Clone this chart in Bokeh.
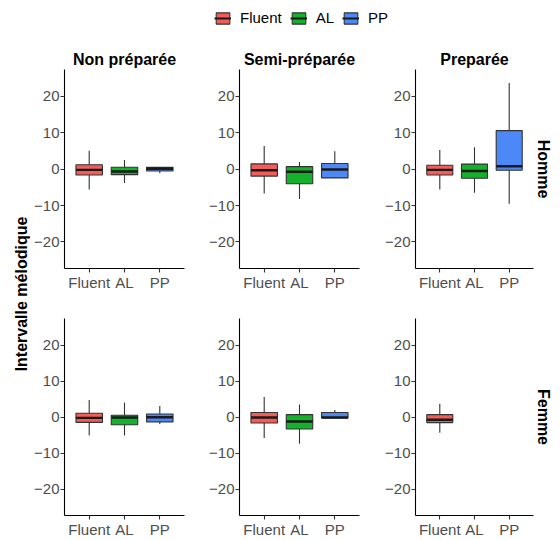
import math
from bokeh.plotting import figure
from bokeh.models import (Range1d, FactorRange, FixedTicker, ColumnDataSource,
                          Legend, LegendItem, Label, Title)
from bokeh.layouts import row, column
from bokeh.transform import dodge
from bokeh.embed import file_html
from bokeh.resources import INLINE

CATEGORIES = ["Fluent", "AL", "PP"]
COLORS = ["#F25D5A", "#13B12C", "#4D88F7"]
CONDITIONS = ["Non préparée", "Semi-préparée", "Preparée"]
GENDERS = ["Homme", "Femme"]
Y_TICKS = [-20, -10, 0, 10, 20]
Y_LABEL = "Intervalle mélodique"

# statistics per condition (outer list) and per category (inner list)
HOMME_LOW = [[-5.6, -3.8, -1.1], [-6.7, -8.2, -2.4], [-5.6, -6.5, -9.5]]
HOMME_Q1 = [[-1.6, -1.5, -0.5], [-1.9, -4.0, -2.4], [-1.6, -2.5, -0.3]]
HOMME_MED = [[-0.2, -0.65, 0.1], [-0.3, -0.7, -0.1], [-0.2, -0.5, 0.8]]
HOMME_Q3 = [[1.2, 0.55, 0.5], [1.45, 0.7, 1.55], [1.1, 1.4, 10.6]]
HOMME_HIGH = [[5.1, 2.5, 0.5], [6.4, 2.0, 4.9], [5.3, 6.0, 23.7]]

FEMME_LOW = [[-5.1, -5.1, -1.9], [-5.8, -7.4, -0.2], [-4.3, None, None]]
FEMME_Q1 = [[-1.45, -2.1, -1.3], [-1.6, -3.3, -0.2], [-1.5, None, None]]
FEMME_MED = [[-0.2, -0.1, 0.0], [-0.1, -1.2, -0.1], [-0.7, None, None]]
FEMME_Q3 = [[1.1, 0.55, 0.9], [1.3, 0.7, 1.3], [0.7, None, None]]
FEMME_HIGH = [[4.8, 4.1, 3.1], [5.6, 3.5, 2.0], [3.7, None, None]]

STATS = {
    "Homme": (HOMME_LOW, HOMME_Q1, HOMME_MED, HOMME_Q3, HOMME_HIGH),
    "Femme": (FEMME_LOW, FEMME_Q1, FEMME_MED, FEMME_Q3, FEMME_HIGH),
}

FONT = "Liberation Sans"
BOX_W = 0.75
YLAB_W = 30
WIDTHS = [173, 176, 181]
LEFTS = [34, 36, 36]
RIGHTS = [19, 20, 27]
FRAME_H = 200
TOPS = [35, 25]
BOTTOMS = [24, 22]
LEGEND_H = 34
OUTLINE = "#333333"


def make_source(gi, ci):
    low, q1, med, q3, high = (s[ci] for s in STATS[GENDERS[gi]])
    idx = [i for i in range(len(CATEGORIES)) if q1[i] is not None]
    return ColumnDataSource(dict(
        x=[CATEGORIES[i] for i in idx],
        low=[low[i] for i in idx],
        q1=[q1[i] for i in idx],
        med=[med[i] for i in idx],
        q3=[q3[i] for i in idx],
        high=[high[i] for i in idx],
        color=[COLORS[i] for i in idx],
    ))


def make_panel(gi, ci):
    src = make_source(gi, ci)
    top, bottom = TOPS[gi], BOTTOMS[gi]
    p = figure(width=WIDTHS[ci], height=top + FRAME_H + bottom,
               x_range=FactorRange(factors=CATEGORIES, range_padding=0.2,
                                   range_padding_units="absolute"),
               y_range=Range1d(-27.3, 27.4),
               output_backend="svg", toolbar_location=None,
               title=(CONDITIONS[ci] if gi == 0 else None),
               min_border_left=LEFTS[ci], min_border_right=RIGHTS[ci],
               min_border_top=top, min_border_bottom=bottom)
    p.outline_line_color = None
    p.xgrid.visible = False
    p.ygrid.visible = False
    if gi == 0:
        p.title.align = "center"
        p.title.text_font = FONT
        p.title.text_font_size = "16px"
        p.title.text_font_style = "bold"
        p.title.text_color = "black"
        p.title.standoff = 4
    p.yaxis.ticker = FixedTicker(ticks=Y_TICKS)
    for ax in (p.xaxis[0], p.yaxis[0]):
        ax.axis_line_color = "black"
        ax.axis_line_width = 1.1
        ax.major_tick_line_color = OUTLINE
        ax.major_tick_line_width = 1.1
        ax.major_tick_out = 4
        ax.major_tick_in = 0
        ax.minor_tick_line_color = None
        ax.major_label_text_font = FONT
        ax.major_label_text_font_size = "15px"
        ax.major_label_text_color = "#4D4D4D"
        ax.major_label_standoff = 1
    # whiskers
    p.segment(x0="x", x1="x", y0="q3", y1="high", source=src,
              line_color=OUTLINE, line_width=1.1)
    p.segment(x0="x", x1="x", y0="low", y1="q1", source=src,
              line_color=OUTLINE, line_width=1.1)
    # boxes
    p.vbar(x="x", width=BOX_W, top="q3", bottom="q1", source=src,
           fill_color="color", line_color=OUTLINE, line_width=1.1)
    # medians
    p.segment(x0=dodge("x", -BOX_W / 2, range=p.x_range),
              x1=dodge("x", BOX_W / 2, range=p.x_range),
              y0="med", y1="med", source=src,
              line_color="#1a1a1a", line_width=2.4)
    if ci == len(CONDITIONS) - 1:
        p.add_layout(Title(text=GENDERS[gi], align="center", text_font=FONT,
                           text_font_size="16px", text_font_style="bold",
                           text_color="black", standoff=2), "right")
    return p


rows = []
for gi in range(len(GENDERS)):
    rows.append(row(*[make_panel(gi, ci) for ci in range(len(CONDITIONS))]))

row_h = [TOPS[g] + FRAME_H + BOTTOMS[g] for g in range(2)]
body_h = sum(row_h)

# y axis label, centred on the two rows of panels
yl = figure(width=YLAB_W, height=body_h, x_range=Range1d(0, 1),
            y_range=Range1d(0, 1), x_axis_location=None, y_axis_location=None,
            min_border=0, output_backend="svg", toolbar_location=None)
yl.outline_line_color = None
yl.grid.visible = False
frames_mid = (TOPS[0] + (row_h[0] + TOPS[1] + FRAME_H)) / 2
yl.add_layout(Label(x=21, y=body_h - frames_mid, x_units="screen",
                    y_units="screen", text=Y_LABEL, angle=math.pi / 2,
                    text_align="center", text_baseline="middle",
                    text_font=FONT, text_font_size="16px",
                    text_font_style="bold", text_color="black"))

# legend (icons drawn from a panel's own box/median renderers, kept out of view)
lp = figure(width=YLAB_W + sum(WIDTHS), height=LEGEND_H,
            x_range=FactorRange(factors=CATEGORIES), y_range=Range1d(1000, 1001),
            x_axis_location=None, y_axis_location=None, min_border=0,
            output_backend="svg", toolbar_location=None)
lp.outline_line_color = None
lp.grid.visible = False
lsrc = make_source(0, 0)
rbox = lp.vbar(x="x", width=BOX_W, top="q3", bottom="q1", source=lsrc,
               fill_color="color", line_color=OUTLINE, line_width=1.1)
rmed = lp.segment(x0="x", x1="x", y0="med", y1="med", source=lsrc,
                  line_color="#1a1a1a", line_width=2)
items = [LegendItem(label=cat, renderers=[rbox, rmed], index=i)
         for i, cat in enumerate(CATEGORIES)]
legend = Legend(items=items, orientation="horizontal", location=(214, 8),
                glyph_width=17, glyph_height=14, label_standoff=9, spacing=8,
                padding=0, margin=0, border_line_color=None,
                background_fill_alpha=0, label_text_font=FONT,
                label_text_font_size="15px", label_text_color="black",
                label_height=14, label_width=10)
lp.add_layout(legend, "center")

layout = column(lp, row(yl, column(*rows)))

open("out.html", "w").write(file_html(layout, INLINE))
